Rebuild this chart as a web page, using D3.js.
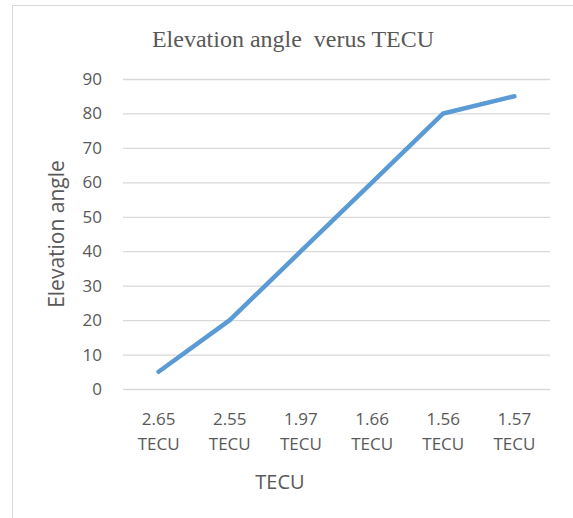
<!DOCTYPE html>
<html>
<head>
<meta charset="utf-8">
<script src="https://cdn.jsdelivr.net/npm/d3@7/dist/d3.min.js"></script>
<style>
  html, body { margin: 0; padding: 0; background: #fff; }
  svg { display: block; }
</style>
</head>
<body>
<svg id="chart" width="573" height="518"></svg>
<script>
const categories = [["2.65", "TECU"], ["2.55", "TECU"], ["1.97", "TECU"], ["1.66", "TECU"], ["1.56", "TECU"], ["1.57", "TECU"]];
const elevation = [5, 20, 40, 60, 80, 85];
const yTicks = [0, 10, 20, 30, 40, 50, 60, 70, 80, 90];
const titleText = "Elevation angle\u00a0 verus TECU";
const xTitle = "TECU";
const yTitle = "Elevation angle";

const svg = d3.select("#chart");
const W = 573, H = 518;
const plot = { left: 123, right: 550, top: 79, bottom: 389 };
const textColor = "#595959";
const sans = "'Open Sans', sans-serif";

// chart frame
svg.append("rect")
  .attr("x", 12.5).attr("y", 5.5)
  .attr("width", W + 10).attr("height", H + 10)
  .attr("fill", "#fff").attr("stroke", "#d9d9d9").attr("stroke-width", 1);

const keys = categories.map(c => c.join(" "));
const x = d3.scaleBand().domain(keys).range([plot.left, plot.right]);
const y = d3.scaleLinear().domain([0, 90]).range([plot.bottom, plot.top]);

// gridlines
const yAxis = d3.axisLeft(y).tickValues(yTicks).tickSize(-(plot.right - plot.left)).tickPadding(21).tickFormat(d3.format("d"));
const gy = svg.append("g").attr("transform", `translate(${plot.left},0)`).call(yAxis);
gy.select(".domain").remove();
gy.selectAll(".tick line").attr("stroke", "#d9d9d9").attr("stroke-width", 1.3);
gy.selectAll(".tick text").attr("fill", textColor).style("font-family", sans).style("font-size", "17px");

// x axis labels
const xAxis = d3.axisBottom(x).tickSize(0).tickPadding(0);
const gx = svg.append("g").attr("transform", `translate(0,${plot.bottom})`).call(xAxis);
gx.select(".domain").remove();
gx.selectAll(".tick text").each(function(d, i) {
  const t = d3.select(this);
  t.text(null).attr("y", 0).attr("dy", null)
    .attr("fill", textColor).style("font-family", sans).style("font-size", "17px");
  categories[i].forEach((s, j) => {
    t.append("tspan").attr("x", 0).attr("y", 36 + j * 25).text(s);
  });
});

// line
const line = d3.line()
  .x((d, i) => x(keys[i]) + x.bandwidth() / 2)
  .y(d => y(d));
svg.append("path")
  .datum(elevation)
  .attr("fill", "none")
  .attr("stroke", "#5b9bd5")
  .attr("stroke-width", 4.5)
  .attr("stroke-linejoin", "round")
  .attr("stroke-linecap", "round")
  .attr("d", line);

// title
svg.append("text")
  .attr("x", 293).attr("y", 47)
  .attr("text-anchor", "middle")
  .attr("fill", textColor)
  .style("font-family", "'Liberation Serif', 'Times New Roman', serif")
  .style("font-size", "24px")
  .text(titleText);

// axis titles
svg.append("text")
  .attr("x", 280).attr("y", 489)
  .attr("text-anchor", "middle")
  .attr("fill", textColor)
  .style("font-family", sans).style("font-size", "20px")
  .text(xTitle);

svg.append("text")
  .attr("transform", `translate(64,${(plot.top + plot.bottom) / 2}) rotate(-90)`)
  .attr("text-anchor", "middle")
  .attr("fill", textColor)
  .style("font-family", sans).style("font-size", "21px")
  .text(yTitle);
</script>
</body>
</html>
